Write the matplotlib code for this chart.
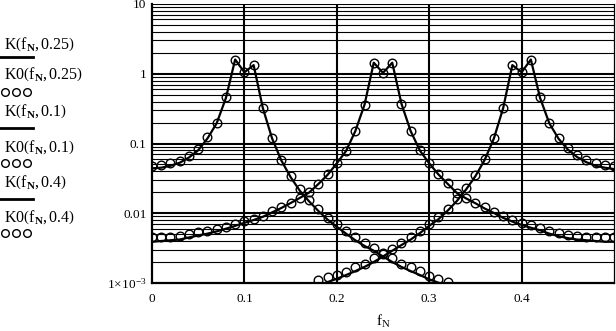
import numpy as np
import matplotlib
matplotlib.use("Agg")
import matplotlib.pyplot as plt
from matplotlib.lines import Line2D
from matplotlib.ticker import FixedLocator, NullLocator

plt.rcParams['font.family'] = ['Liberation Serif', 'DejaVu Serif']
plt.rcParams['mathtext.fontset'] = 'custom'
plt.rcParams['mathtext.rm'] = 'Liberation Serif'
plt.rcParams['mathtext.it'] = 'Liberation Serif:italic'
plt.rcParams['mathtext.bf'] = 'Liberation Serif:bold'

nan = np.nan

f_N = [0.00, 0.01, 0.02, 0.03, 0.04, 0.05, 0.06, 0.07, 0.08, 0.09,
       0.10, 0.11, 0.12, 0.13, 0.14, 0.15, 0.16, 0.17, 0.18, 0.19,
       0.20, 0.21, 0.22, 0.23, 0.24, 0.25, 0.26, 0.27, 0.28, 0.29,
       0.30, 0.31, 0.32, 0.33, 0.34, 0.35, 0.36, 0.37, 0.38, 0.39,
       0.40, 0.41, 0.42, 0.43, 0.44, 0.45, 0.46, 0.47, 0.48, 0.49, 0.50]

# K(f_N, 0.25)  (solid line)
K_025 = [0.0039, 0.0040, 0.0041, 0.0042, 0.0045, 0.0048, 0.0051, 0.0055, 0.0060, 0.0066,
         0.0073, 0.0080, 0.0089, 0.0103, 0.0119, 0.0140, 0.0166, 0.0198, 0.0262, 0.0355,
         0.052, 0.078, 0.150, 0.36, 1.44, 1.03, 1.44, 0.37, 0.150, 0.079,
         0.052, 0.0360, 0.0264, 0.0195, 0.0163, 0.0139, 0.0117, 0.0101, 0.0086, 0.0076,
         0.0068, 0.0062, 0.0057, 0.0051, 0.0047, 0.0044, 0.0042, 0.0041, 0.0040, 0.0039, 0.0039]
# K0(f_N, 0.25)  (circles)
K0_025 = [0.0045, 0.0045, 0.0046, 0.0047, 0.0050, 0.0053, 0.0056, 0.0059, 0.0064, 0.0070,
          0.0077, 0.0083, 0.0092, 0.0106, 0.0122, 0.0142, 0.0168, 0.0200, 0.0265, 0.036,
          0.053, 0.079, 0.151, 0.36, 1.44, 1.03, 1.44, 0.37, 0.152, 0.080,
          0.053, 0.0365, 0.0268, 0.0198, 0.0166, 0.0142, 0.0121, 0.0105, 0.0090, 0.0080,
          0.0073, 0.0067, 0.0062, 0.0056, 0.0052, 0.0049, 0.0047, 0.0046, 0.0045, 0.0045, 0.0045]

# K(f_N, 0.1)
K_01 = [0.044, 0.045, 0.048, 0.053, 0.063, 0.080, 0.118, 0.195, 0.45, 1.60,
        1.05, 1.33, 0.32, 0.118, 0.057, 0.033, 0.021, 0.0148, 0.0108, 0.0081,
        0.0064, 0.0051, 0.0041, 0.0034, 0.0029, 0.0024, 0.0020, 0.0017, 0.00148, 0.0013,
        0.00113, 0.00101, 0.00092, nan, nan, nan, nan, nan, nan, nan,
        nan, nan, nan, nan, nan, nan, nan, nan, nan, nan, nan]
# K0(f_N, 0.1)
K0_01 = [0.048, 0.049, 0.052, 0.057, 0.067, 0.084, 0.122, 0.20, 0.46, 1.60,
         1.05, 1.33, 0.32, 0.119, 0.058, 0.034, 0.022, 0.0155, 0.0114, 0.0086,
         0.0069, 0.0055, 0.0045, 0.0038, 0.0032, 0.0027, 0.0023, 0.0019, 0.0017, 0.0015,
         0.00128, 0.00114, 0.00104, nan, nan, nan, nan, nan, nan, nan,
         nan, nan, nan, nan, nan, nan, nan, nan, nan, nan, nan]

# K(f_N, 0.4)
K_04 = [nan, nan, nan, nan, nan, nan, nan, nan, nan, nan,
        nan, nan, nan, nan, nan, nan, nan, nan, 0.00093, 0.00103,
        0.00115, 0.0013, 0.00148, 0.0017, 0.0020, 0.0024, 0.0029, 0.0035, 0.0042, 0.0052,
        0.0066, 0.0082, 0.0109, 0.0150, 0.022, 0.034, 0.058, 0.118, 0.32, 1.33,
        1.05, 1.60, 0.45, 0.195, 0.117, 0.082, 0.064, 0.054, 0.048, 0.045, 0.043]
# K0(f_N, 0.4)
K0_04 = [nan, nan, nan, nan, nan, nan, nan, nan, nan, nan,
         nan, nan, nan, nan, nan, nan, nan, nan, 0.0011, 0.0012,
         0.0013, 0.00145, 0.0017, 0.0019, 0.0023, 0.0026, 0.0031, 0.0038, 0.0045, 0.0056,
         0.0071, 0.0088, 0.0116, 0.016, 0.023, 0.035, 0.059, 0.119, 0.32, 1.33,
         1.05, 1.60, 0.46, 0.20, 0.121, 0.086, 0.068, 0.058, 0.052, 0.049, 0.047]

legend_labels = [r"$\mathrm{K}\left(\mathrm{f}_{\mathbf{N}}, 0.25\right)$",
                 r"$\mathrm{K0}\left(\mathrm{f}_{\mathbf{N}}, 0.25\right)$",
                 r"$\mathrm{K}\left(\mathrm{f}_{\mathbf{N}}, 0.1\right)$",
                 r"$\mathrm{K0}\left(\mathrm{f}_{\mathbf{N}}, 0.1\right)$",
                 r"$\mathrm{K}\left(\mathrm{f}_{\mathbf{N}}, 0.4\right)$",
                 r"$\mathrm{K0}\left(\mathrm{f}_{\mathbf{N}}, 0.4\right)$"]

x_ticks = [0.0, 0.1, 0.2, 0.3, 0.4]
x_ticklabels = ["0", "0.1", "0.2", "0.3", "0.4"]
y_ticks = [10, 1, 0.1, 0.01, 0.001]
y_ticklabels = ["10", "1", "0.1", "0.01", r"$1\!\times\!10^{-3}$"]

W, H = 616, 331
fig = plt.figure(figsize=(W / 100, H / 100), dpi=100)
L, R, T, B = 152, 614, 4, 283
ax = fig.add_axes([L / W, 1 - B / H, (R - L) / W, (B - T) / H])
ax.set_yscale('log')
ax.set_xlim(0, 0.5)
ax.set_ylim(1e-3, 10)

# grid
for dec in [0.001, 0.01, 0.1, 1]:
    for m in range(2, 10):
        ax.axhline(dec * m, color='black', lw=0.8, zorder=1)
for dec in [0.01, 0.1, 1, 10]:
    ax.axhline(dec, color='black', lw=1.5, zorder=1)
for xv in x_ticks[1:]:
    ax.axvline(xv, color='black', lw=1.5, zorder=1)

for K, K0 in [(K_025, K0_025), (K_01, K0_01), (K_04, K0_04)]:
    ax.plot(f_N, K, color='black', lw=1.6, zorder=3)
    ax.plot(f_N, K0, linestyle='none', marker='o', ms=6.2, mfc='none',
            mec='black', mew=1.0, zorder=4)

ax.xaxis.set_major_locator(FixedLocator(x_ticks))
ax.set_xticklabels(x_ticklabels)
ax.yaxis.set_major_locator(FixedLocator(y_ticks))
ax.yaxis.set_minor_locator(NullLocator())
ax.set_yticklabels(y_ticklabels)
ax.tick_params(axis='both', length=0, labelsize=9.5)
ax.tick_params(axis='x', pad=7)
ax.tick_params(axis='y', pad=4)
ax.set_xlabel(r"$\mathrm{f}_{\mathrm{N}}$", fontsize=11, labelpad=6)

for side in ['left', 'bottom']:
    ax.spines[side].set_linewidth(1.6)
ax.spines['right'].set_linewidth(0.9)
ax.spines['top'].set_visible(False)

# legend at the left
text_y = [44.5, 74.5, 111.5, 147, 182.5, 217.5]
line_y = [57, 128, 199]
circ_y = [91.5, 163, 233]
for lab, yy in zip(legend_labels, text_y):
    fig.text(4 / W, 1 - yy / H, lab, fontsize=11.5, ha='left', va='center')
for yy in line_y:
    fig.add_artist(Line2D([0, 33 / W], [1 - yy / H] * 2, color='black', lw=2.0,
                          transform=fig.transFigure))
for yy in circ_y:
    fig.add_artist(Line2D([5 / W, 16 / W, 27 / W], [1 - yy / H] * 3, linestyle='none',
                          marker='o', ms=5.5, mfc='none', mec='black', mew=1.0,
                          transform=fig.transFigure))

fig.savefig("out.png", dpi=100)
